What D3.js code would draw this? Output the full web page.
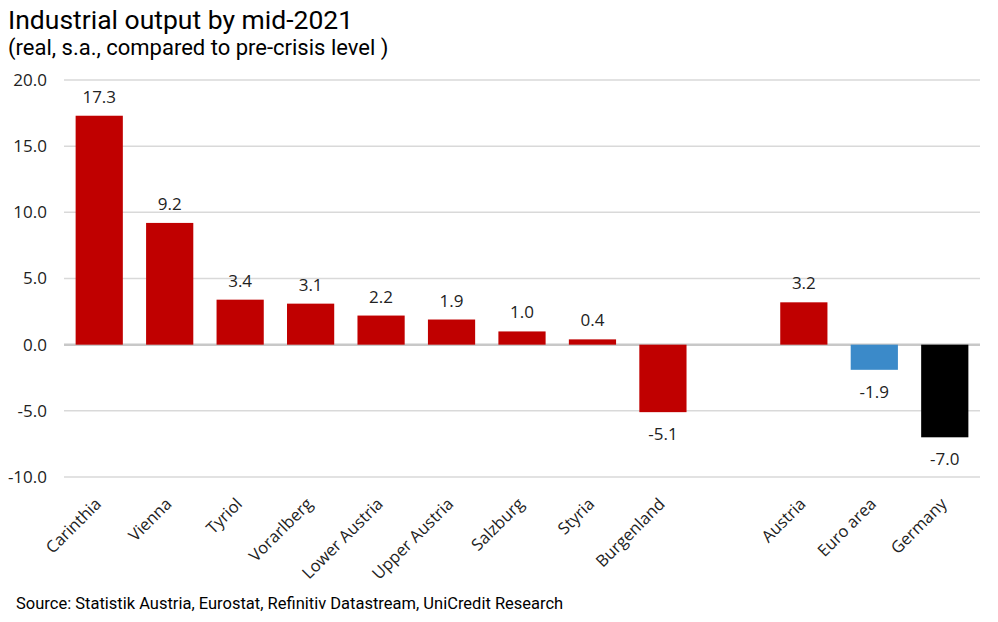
<!DOCTYPE html>
<html><head><meta charset="utf-8">
<script src="https://cdn.jsdelivr.net/npm/d3@7"></script>
<style>body{margin:0;background:#fff;} svg{display:block;}</style>
</head><body>
<script>
const categories = ["Carinthia","Vienna","Tyriol","Vorarlberg","Lower Austria","Upper Austria","Salzburg","Styria","Burgenland","","Austria","Euro area","Germany"];
const values = [17.3,9.2,3.4,3.1,2.2,1.9,1.0,0.4,-5.1,null,3.2,-1.9,-7.0];
const barColors = ["#c00000","#c00000","#c00000","#c00000","#c00000","#c00000","#c00000","#c00000","#c00000",null,"#c00000","#3b8ac9","#000000"];
const yTicks = [-10,-5,0,5,10,15,20];
const title = "Industrial output by mid-2021";
const subtitle = "(real, s.a., compared to pre-crisis level )";
const source = "Source: Statistik Austria, Eurostat, Refinitiv Datastream, UniCredit Research";

const W = 998, H = 622;
const svg = d3.select("body").append("svg").attr("width", W).attr("height", H);
const keys = categories.map((c,i)=> c || ("gap"+i));
const x = d3.scaleBand().domain(keys).range([64, 980]).paddingInner(0.33).paddingOuter(0.165);
const y = d3.scaleLinear().domain([-10, 20]).range([477, 80]);
const fmt = v => d3.format(".1f")(v).replace("\u2212", "-");

const titleFont = "Roboto,'DejaVu Sans',sans-serif";
const bodyFont = "'Open Sans','Noto Sans',sans-serif";

svg.append("text").attr("x", 8).attr("y", 29).attr("font-family", titleFont).attr("font-size", 26.5).attr("fill", "#000").text(title);
svg.append("text").attr("x", 8).attr("y", 55).attr("font-family", titleFont).attr("font-size", 22).attr("fill", "#000").text(subtitle);

// gridlines
svg.append("g").selectAll("line").data(yTicks).join("line")
  .attr("x1", 64).attr("x2", 980)
  .attr("y1", d=>y(d)).attr("y2", d=>y(d))
  .attr("stroke", d=> d===0 ? "#c8c8c8" : "#d9d9d9")
  .attr("stroke-width", d=> d===0 ? 2.5 : 1.5);

// y axis labels
const yAxis = d3.axisLeft(y).tickValues(yTicks).tickFormat(fmt).tickSize(0).tickPadding(0);
const yg = svg.append("g").attr("transform", "translate(47,0)").call(yAxis);
yg.select(".domain").remove();
yg.selectAll("text").attr("font-family", bodyFont).attr("font-size", 17).attr("fill", "#222").attr("dy", "0.32em");

// bars
const data = keys.map((k,i)=>({k, v: values[i], c: barColors[i], label: categories[i]})).filter(d=>d.v!==null);
svg.append("g").selectAll("rect").data(data).join("rect")
  .attr("x", d=>x(d.k)).attr("width", x.bandwidth())
  .attr("y", d=> y(Math.max(0,d.v))).attr("height", d=> Math.abs(y(d.v)-y(0)))
  .attr("fill", d=>d.c);

// value labels
svg.append("g").selectAll("text").data(data).join("text")
  .attr("x", d=>x(d.k)+x.bandwidth()/2)
  .attr("y", d=> d.v>=0 ? y(d.v)-13 : y(d.v)+28)
  .attr("text-anchor", "middle").attr("font-family", bodyFont).attr("font-size", 17).attr("fill", "#222")
  .text(d=>fmt(d.v));

// x labels
const xAxis = d3.axisBottom(x).tickSize(0).tickFormat(k => categories[keys.indexOf(k)]);
const xg = svg.append("g").attr("transform", "translate(0,487)").call(xAxis);
xg.select(".domain").remove();
xg.selectAll("text").attr("font-family", bodyFont).attr("font-size", 16.5).attr("fill", "#222")
  .attr("text-anchor", "end").attr("dy", "0").attr("y", 0)
  .attr("transform", "translate(3,18) rotate(-45)");

svg.append("text").attr("x", 16).attr("y", 609).attr("font-family", titleFont).attr("font-size", 16.5).attr("fill", "#000").text(source);
</script>
</body></html>
